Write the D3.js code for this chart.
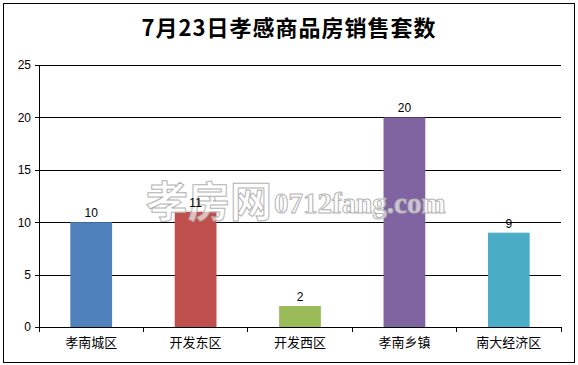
<!DOCTYPE html>
<html>
<head>
<meta charset="utf-8">
<title>7月23日孝感商品房销售套数</title>
<script src="https://d3js.org/d3.v7.min.js"></script>
<style>
body { margin: 0; background: #fff; }
svg text { font-family: "Liberation Sans", "Noto Sans CJK SC", sans-serif; }
.grid line { stroke: #000; shape-rendering: crispEdges; }
.grid path { display: none; }
.axis path, .axis line { stroke: #000; shape-rendering: crispEdges; }
</style>
</head>
<body>
<svg id="chart" width="578" height="365"></svg>
<script>
// data
var districts = ["孝南城区", "开发东区", "开发西区", "孝南乡镇", "南大经济区"];
var sales = [10, 11, 2, 20, 9];
var barColors = ["#4F81BD", "#C0504D", "#9BBB59", "#8064A2", "#4BACC6"];
var yTicks = [0, 5, 10, 15, 20, 25];

var svg = d3.select("#chart"),
    margin = {top: 65, right: 17, bottom: 38, left: 39},
    width = +svg.attr("width"),
    height = +svg.attr("height");

// outer frame
svg.append("rect")
    .attr("x", 3.5).attr("y", 3.5)
    .attr("width", width - 7).attr("height", height - 6)
    .attr("fill", "#fff")
    .attr("stroke", "#000");

svg.append("text")
    .attr("x", width / 2)
    .attr("y", 36)
    .attr("text-anchor", "middle")
    .style("font-family", "'Noto Sans CJK SC', serif")
    .style("font-weight", "bold")
    .style("font-size", "22px")
    .style("letter-spacing", "1px")
    .text("7月23日孝感商品房销售套数");

var x = d3.scaleBand()
    .domain(districts)
    .range([margin.left, width - margin.right])
    .paddingInner(0.6)
    .paddingOuter(0.3);

var xOuter = d3.scaleBand()
    .domain(districts)
    .range([margin.left, width - margin.right]);

var y = d3.scaleLinear()
    .domain([0, 25])
    .range([height - margin.bottom, margin.top]);

// horizontal gridlines
svg.append("g")
    .attr("class", "grid")
    .attr("transform", "translate(" + margin.left + ",0)")
    .call(d3.axisLeft(y).tickValues(yTicks).tickSize(-(width - margin.right - margin.left)).tickFormat(""));

// y axis
svg.append("g")
    .attr("class", "axis")
    .attr("transform", "translate(" + margin.left + ",0)")
    .call(d3.axisLeft(y).tickValues(yTicks).tickSize(4).tickSizeOuter(0).tickPadding(4))
    .call(g => g.selectAll("text").style("font-size", "12px").attr("fill", "#000"));

// bars
svg.selectAll(".bar")
    .data(sales)
    .enter().append("rect")
    .attr("class", "bar")
    .attr("x", (d, i) => x(districts[i]))
    .attr("width", x.bandwidth())
    .attr("y", d => y(d))
    .attr("height", d => y(0) - y(d))
    .attr("fill", (d, i) => barColors[i]);

// watermark
var wm = svg.append("text")
    .attr("x", 146)
    .attr("y", 217)
    .attr("fill", "#fff")
    .attr("fill-opacity", 0.65)
    .attr("stroke", "#b4b4b4")
    .attr("stroke-width", 1);
wm.append("tspan")
    .style("font-family", "'Noto Sans CJK SC', sans-serif")
    .style("font-weight", "bold")
    .style("font-size", "42px")
    .text("孝房网");
wm.append("tspan")
    .style("font-family", "'Liberation Serif', serif")
    .style("font-weight", "bold")
    .style("font-size", "29px")
    .attr("dx", 2)
    .attr("dy", -4)
    .text("0712fang.com");

// value labels
svg.selectAll(".val")
    .data(sales)
    .enter().append("text")
    .attr("class", "val")
    .attr("x", (d, i) => x(districts[i]) + x.bandwidth() / 2)
    .attr("y", d => y(d) - 5)
    .attr("text-anchor", "middle")
    .style("font-size", "12px")
    .text(d => d);

// x axis with ticks between categories
var xAxis = svg.append("g")
    .attr("class", "axis")
    .attr("transform", "translate(0," + y(0) + ")");
xAxis.append("line")
    .attr("x1", margin.left).attr("x2", width - margin.right)
    .attr("stroke", "#000");
xAxis.selectAll(".tk")
    .data(districts.concat([null]))
    .enter().append("line")
    .attr("class", "tk")
    .attr("x1", d => d === null ? width - margin.right : xOuter(d))
    .attr("x2", d => d === null ? width - margin.right : xOuter(d))
    .attr("y1", 0).attr("y2", 5)
    .attr("stroke", "#000");
xAxis.selectAll(".lbl")
    .data(districts)
    .enter().append("text")
    .attr("class", "lbl")
    .attr("x", d => xOuter(d) + xOuter.bandwidth() / 2)
    .attr("y", 20)
    .attr("text-anchor", "middle")
    .style("font-family", "'Noto Sans CJK SC', sans-serif")
    .style("font-size", "13px")
    .text(d => d);
</script>
</body>
</html>
